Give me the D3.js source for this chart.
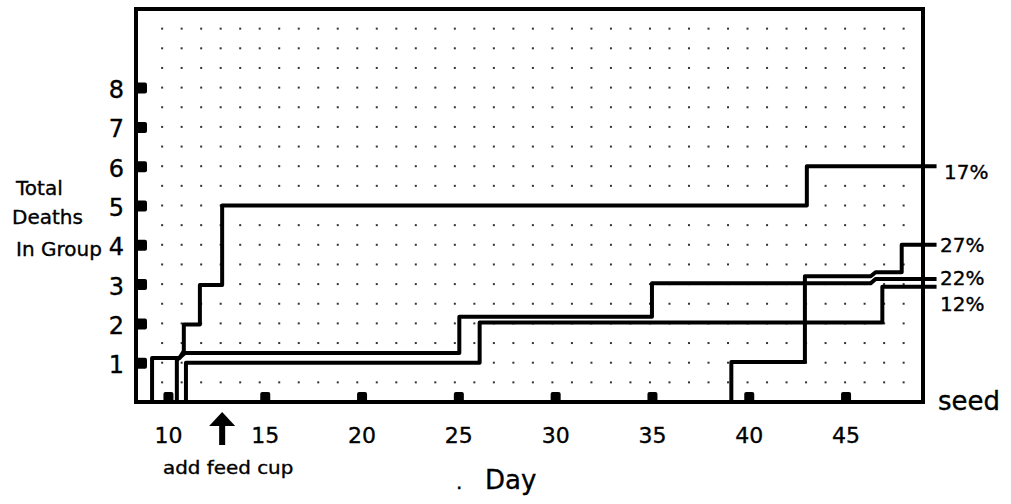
<!DOCTYPE html>
<html><head><meta charset="utf-8">
<script src="https://cdn.jsdelivr.net/npm/d3@7"></script>
<style>
body{margin:0;background:#fff}
svg{display:block}
text{font-family:"DejaVu Sans",sans-serif;fill:#000;stroke:#000;stroke-width:0.35px}
</style>
</head><body>
<svg id="c" width="1011" height="504"></svg>
<script>
// ---- data ----
const xTickValues = [10, 15, 20, 25, 30, 35, 40, 45];
const yTickValues = [1, 2, 3, 4, 5, 6, 7, 8];
const seriesLabels = ["17%", "27%", "22%", "12%"];
// step paths: [day, total deaths]
const s17 = [[9.18,0],[9.18,1.12],[10.6,1.12],[10.82,1.3],[10.82,1.97],[11.65,1.97],[11.65,2.98],[12.8,2.98],[12.8,5.0],[43.0,5.0],[43.0,6.0],[49.7,6.0]];
const s27 = [[39.1,0],[39.1,1.02],[42.9,1.02],[42.9,3.2],[46.3,3.2],[46.55,3.3],[47.9,3.3],[47.9,4.0],[49.7,4.0]];
const s22 = [[10.46,0],[10.46,1.07],[10.88,1.25],[25.05,1.25],[25.05,2.17],[35.0,2.17],[35.0,3.02],[46.3,3.02],[46.55,3.13],[49.7,3.13]];
const s12 = [[10.93,0],[10.93,1.0],[26.1,1.0],[26.1,2.02],[46.9,2.02],[46.9,2.93],[49.7,2.93]];
const series = [s17, s27, s22, s12];
const feedCupDay = 12.8;

// ---- layout ----
const svg = d3.select("#c");
const x = d3.scaleLinear().domain([8.35, 49]).range([136, 923]);
const y = d3.scaleLinear().domain([0, 10]).range([402, 9]);
const labelNudge = [6, 0, -1, 17];

// dot grid
const dotDays = d3.range(39).map(i => 9.7 + i * (48.0 - 9.7) / 38);
const dotVals = d3.range(1, 20).map(i => i * 0.5);
const dots = [];
dotDays.forEach(d => dotVals.forEach(v => dots.push([d, v])));
svg.append("g").selectAll("rect").data(dots).join("rect")
  .attr("x", d => x(d[0]) - 1).attr("y", d => y(d[1]) - 1)
  .attr("width", 2).attr("height", 2).attr("fill", "#333");

// frame
svg.append("rect").attr("x", x.range()[0]).attr("y", y.range()[1])
  .attr("width", x.range()[1] - x.range()[0]).attr("height", y.range()[0] - y.range()[1])
  .attr("fill", "none").attr("stroke", "#000").attr("stroke-width", 4);

// bottom axis
const gx = svg.append("g").attr("transform", `translate(0,${y(0)})`)
  .call(d3.axisBottom(x).tickValues(xTickValues).tickSize(0).tickFormat(d3.format("d")));
gx.select(".domain").remove();
gx.selectAll(".tick text").attr("y", 41).attr("dy", 0)
  .attr("font-size", 22).attr("font-family", "DejaVu Sans").attr("fill", "#000");
gx.selectAll(".tick").append("rect").attr("x", -5).attr("y", -10)
  .attr("width", 10).attr("height", 10).attr("rx", 2).attr("fill", "#000");

// left axis
const gy = svg.append("g").attr("transform", `translate(${x.range()[0]},0)`)
  .call(d3.axisLeft(y).tickValues(yTickValues).tickSize(0).tickPadding(12).tickFormat(d3.format("d")));
gy.select(".domain").remove();
gy.selectAll(".tick text").attr("dy", "0.42em")
  .attr("font-size", 24).attr("font-family", "DejaVu Sans").attr("fill", "#000");
gy.selectAll(".tick").append("rect").attr("x", 0).attr("y", -5.5)
  .attr("width", 11).attr("height", 11).attr("rx", 2).attr("fill", "#000");

// step lines
const line = d3.line().x(d => x(d[0])).y(d => y(d[1]));
svg.append("g").selectAll("path").data(series).join("path")
  .attr("d", line).attr("fill", "none").attr("stroke", "#000")
  .attr("stroke-width", 4).attr("stroke-linejoin", "round");

// right labels
svg.append("g").selectAll("text").data(series).join("text")
  .attr("x", (d, i) => i === 0 ? 944 : 940)
  .attr("y", (d, i) => y(d[d.length - 1][1]) + labelNudge[i])
  .attr("dy", "0.36em").attr("font-size", 20)
  .text((d, i) => seriesLabels[i]);

// "seed"
svg.append("text").attr("x", 938).attr("y", 410).attr("font-size", 26).text("seed");

// y title
[["Total", 16, 195], ["Deaths", 12, 224], ["In Group", 16, 256]].forEach(t => {
  svg.append("text").attr("x", t[1]).attr("y", t[2]).attr("font-size", 20).text(t[0]);
});

// feed cup arrow
const ax = x(feedCupDay);
svg.append("path").attr("d", `M${ax-13},426 L${ax},412 L${ax+13},426 Z`).attr("fill", "#000");
svg.append("rect").attr("x", ax - 3).attr("y", 424).attr("width", 6).attr("height", 21).attr("fill", "#000");
svg.append("text").attr("x", 163).attr("y", 474)
  .attr("transform", "translate(163,474) scale(1.17,1) translate(-163,-474)")
  .attr("font-size", 17).text("add feed cup");

// x title
svg.append("text").attr("x", 456).attr("y", 489).attr("font-size", 20).text(".");
svg.append("text").attr("x", 485).attr("y", 489).attr("font-size", 26).text("Day");
</script>
</body></html>
